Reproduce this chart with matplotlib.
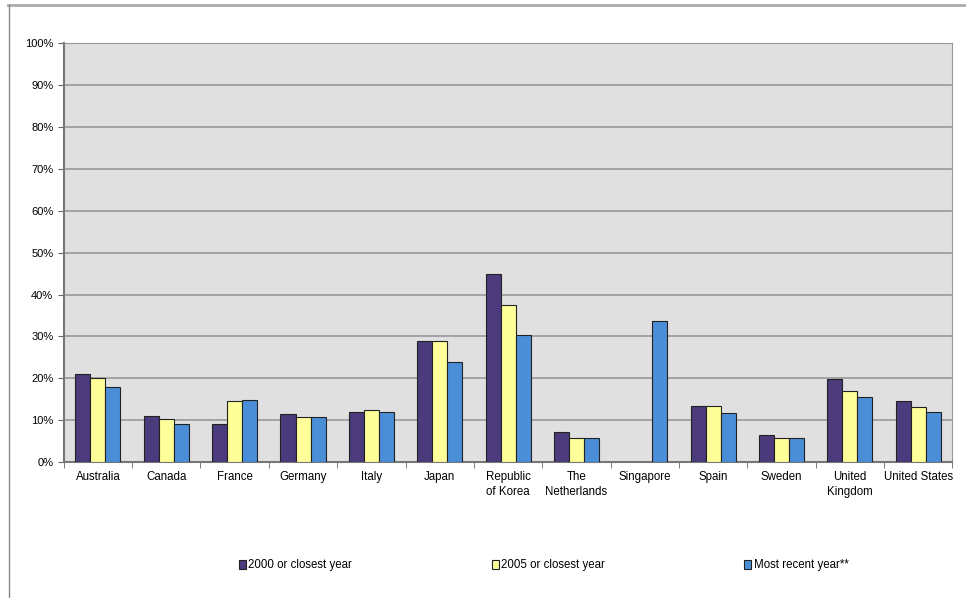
import numpy as np
import matplotlib
matplotlib.use("Agg")
import matplotlib.pyplot as plt
from matplotlib.ticker import FixedLocator, PercentFormatter

countries = ["Australia", "Canada", "France", "Germany", "Italy", "Japan",
             "Republic\nof Korea", "The\nNetherlands", "Singapore", "Spain",
             "Sweden", "United\nKingdom", "United States"]
y2000 = [21.0, 11.0, 9.2, 11.5, 12.0, 29.0, 45.0, 7.2, np.nan, 13.5, 6.6, 19.8, 14.5]
y2005 = [20.0, 10.3, 14.5, 10.8, 12.5, 29.0, 37.5, 5.8, np.nan, 13.5, 5.8, 17.0, 13.3]
recent = [18.0, 9.2, 14.8, 10.9, 12.0, 24.0, 30.3, 5.8, 33.8, 11.7, 5.8, 15.5, 12.0]
labels = ["2000 or closest year", "2005 or closest year", "Most recent year**"]
colors = ["#4b3b7c", "#ffff99", "#4a8ed8"]

plt.rcParams["font.family"] = ["Liberation Sans Narrow", "Liberation Sans", "DejaVu Sans"]

fig = plt.figure(figsize=(9.66, 5.98), dpi=100)
# outer chart frame
fig.add_artist(plt.Line2D([0.008, 1.0], [0.992, 0.992], color="#aaaaaa", lw=2, transform=fig.transFigure))
fig.add_artist(plt.Line2D([0.009, 0.009], [0.0, 0.992], color="#888888", lw=1, transform=fig.transFigure))

ax = fig.add_axes([0.066, 0.227, 0.92, 0.701])
ax.set_facecolor("#e0e0e0")

x = np.arange(len(countries))
w = 0.22
for i, (vals, c, lab) in enumerate(zip([y2000, y2005, recent], colors, labels)):
    ax.bar(x + (i - 1) * w, vals, width=w, color=c, edgecolor="#222222",
           linewidth=0.8, label=lab, zorder=3)

ax.set_xlim(-0.5, len(countries) - 0.5)
ax.set_ylim(0, 100)
ax.set_yticks(np.arange(0, 101, 10))
ax.yaxis.set_major_formatter(PercentFormatter(decimals=0))
ax.grid(axis="y", color="#999999", lw=1.2, zorder=1)
ax.set_xticks(x)
ax.set_xticklabels(countries, fontsize=8.3, va="top", linespacing=1.4)
ax.tick_params(axis="x", which="major", length=0, pad=6)
ax.xaxis.set_minor_locator(FixedLocator(np.arange(-0.5, len(countries), 1.0)))
ax.tick_params(axis="x", which="minor", length=4, color="#666666")
ax.tick_params(axis="y", labelsize=8, length=4, color="#666666")
for s in ["top", "right"]:
    ax.spines[s].set_color("#999999")
for s in ["left", "bottom"]:
    ax.spines[s].set_color("#777777")
    ax.spines[s].set_linewidth(1.5)

fig.legend(loc="center", bbox_to_anchor=(0.563, 0.055), ncol=3, frameon=False,
           fontsize=8.3, handlelength=0.6, handleheight=0.8, handletextpad=0.2,
           columnspacing=12.1)

fig.savefig("out.png", dpi=100)
